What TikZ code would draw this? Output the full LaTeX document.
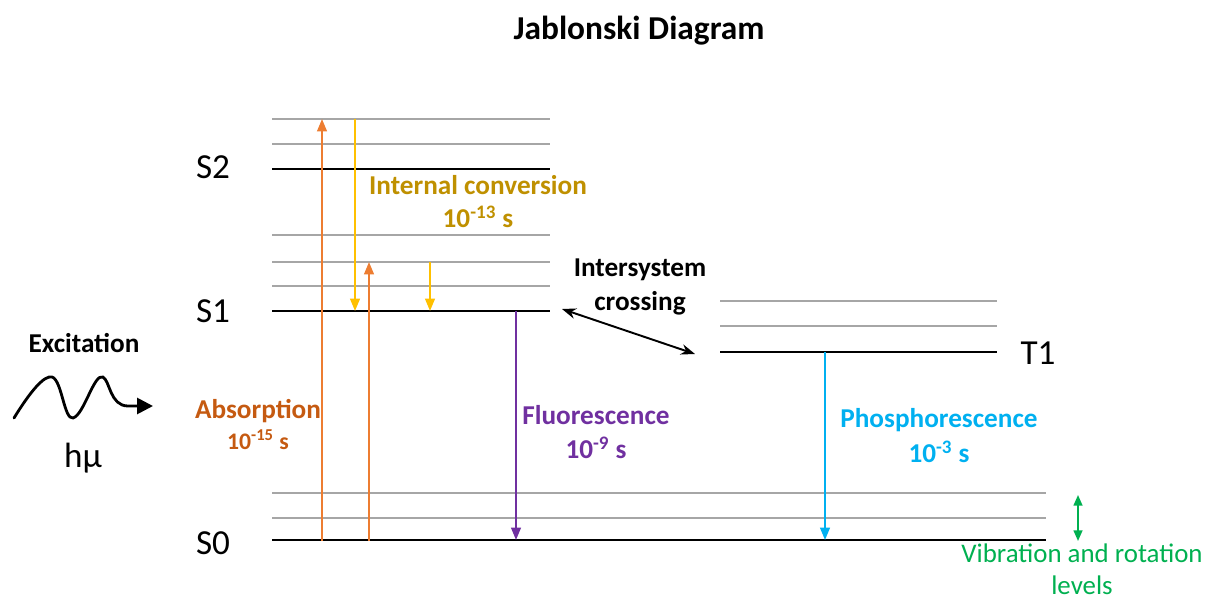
\documentclass[tikz,border=0pt]{standalone}
\usepackage{fontspec}
\setmainfont{Carlito}
\usetikzlibrary{arrows.meta,positioning}
\definecolor{lvlgrey}{HTML}{A6A6A6}
\definecolor{absorb}{HTML}{ED7D31}
\definecolor{absorbtxt}{HTML}{C55A11}
\definecolor{icyel}{HTML}{FFC000}
\definecolor{ictxt}{HTML}{BF9000}
\definecolor{fluo}{HTML}{7030A0}
\definecolor{phos}{HTML}{00B0F0}
\definecolor{vibgreen}{HTML}{00B050}
\tikzset{
  mainlvl/.style={line width=1.5pt, black},
  sublvl/.style={line width=1.2pt, lvlgrey},
  transarrow/.style={line width=1.1pt, -{Triangle[length=7pt,width=5.5pt]}},
  statelbl/.style={font=\fontsize{20}{24}\selectfont},
  proclbl/.style={font=\fontsize{15.5}{18}\selectfont\bfseries, align=center},
}
\begin{document}
\begin{tikzpicture}[x=0.02cm, y=-0.02cm]
  \useasboundingbox (0,0) rectangle (1206,601);
  % Title
  \node[font=\fontsize{19}{22}\selectfont\bfseries] (title) at (639,31) {Jablonski Diagram};

  % Singlet levels
  \foreach \y in {119,144,235,262,286,493,518} {
    \draw[sublvl] (272,\y) -- (550,\y);
  }
  \draw[sublvl] (550,493) -- (1046,493);
  \draw[sublvl] (550,518) -- (1046,518);
  \draw[mainlvl] (272,169) -- (550,169);
  \draw[mainlvl] (272,311) -- (550,311);
  \draw[mainlvl] (272,540) -- (1046,540);

  % Triplet levels
  \foreach \y in {301,326} {
    \draw[sublvl] (720,\y) -- (997,\y);
  }
  \draw[mainlvl] (720,352) -- (997,352);

  % State labels
  \node[statelbl] (s2) at (213,167) {S2};
  \node[statelbl] (s1) at (213,311) {S1};
  \node[statelbl] (s0) at (213,543) {S0};
  \node[statelbl] (t1) at (1038,353) {T1};

  % Transition end points
  \coordinate (absAbot) at (322,541);
  \coordinate (absAtop) at (322,119);
  \coordinate (absBbot) at (369,541);
  \coordinate (absBtop) at (369,262);
  \coordinate (icAtop) at (355,119);
  \coordinate (icAbot) at (355,311);
  \coordinate (icBtop) at (430,262);
  \coordinate (icBbot) at (430,311);
  \coordinate (fluotop) at (516,311);
  \coordinate (fluobot) at (516,540);
  \coordinate (phostop) at (825,352);
  \coordinate (phosbot) at (825,540);
  \coordinate (iscS) at (562,309);
  \coordinate (iscT) at (695,354);
  \coordinate (vibtop) at (1078,495);
  \coordinate (vibbot) at (1078,541);
  \coordinate (wavestart) at (14,418);
  \coordinate (waveend) at (153,406);

  % Transitions
  \draw[transarrow, absorb] (absAbot) -- (absAtop);
  \draw[transarrow, absorb] (absBbot) -- (absBtop);
  \draw[transarrow, icyel] (icAtop) -- (icAbot);
  \draw[transarrow, icyel] (icBtop) -- (icBbot);
  \draw[transarrow, fluo] (fluotop) -- (fluobot);
  \draw[transarrow, phos] (phostop) -- (phosbot);
  \draw[line width=1.1pt, {Stealth[length=8pt,width=6pt]}-{Stealth[length=8pt,width=6pt]}] (iscS) -- (iscT);
  \draw[line width=0.9pt, vibgreen, {Triangle[length=6pt,width=5pt]}-{Triangle[length=6pt,width=5pt]}] (vibtop) -- (vibbot);

  % Excitation photon
  \draw[line width=1.6pt, line cap=round, -{Triangle[length=9pt,width=9pt]}]
    (wavestart) .. controls (30,392) and (44,375) .. (52,377)
    .. controls (62,380) and (64,420) .. (73,418)
    .. controls (84,415) and (94,373) .. (103,377)
    .. controls (110,381) and (110,406) .. (128,406) -- (waveend);

  % Process labels
  \node[proclbl] (excit) at (84,343) {Excitation};
  \node[font=\fontsize{20}{24}\selectfont] (hmu) at (83,458) {hμ};
  \node[proclbl, text=absorbtxt] (abslbl) at (258,411) {Absorption};
  \node[font=\fontsize{13.5}{16}\selectfont\bfseries, text=absorbtxt] (abstime) at (258,440) {10\textsuperscript{-15} s};
  \node[proclbl, text=ictxt] (iclbl) at (478,185) {Internal conversion};
  \node[proclbl, text=ictxt] (ictime) at (478,217) {10\textsuperscript{-13} s};
  \node[proclbl, font=\fontsize{15.5}{19}\selectfont\bfseries] (isclbl) at (640,287) {Intersystem\\crossing};
  \node[proclbl, text=fluo] (fluolbl) at (596,415) {Fluorescence};
  \node[proclbl, text=fluo] (fluotime) at (596,448) {10\textsuperscript{-9} s};
  \node[proclbl, text=phos] (phoslbl) at (939,420) {Phosphorescence};
  \node[proclbl, text=phos] (phostime) at (939,452) {10\textsuperscript{-3} s};
  \node[font=\fontsize{15.3}{18}\selectfont, text=vibgreen, align=center, inner sep=0pt] (viblbl) at (1082,569) {Vibration and rotation\\levels};
\end{tikzpicture}
\end{document}
